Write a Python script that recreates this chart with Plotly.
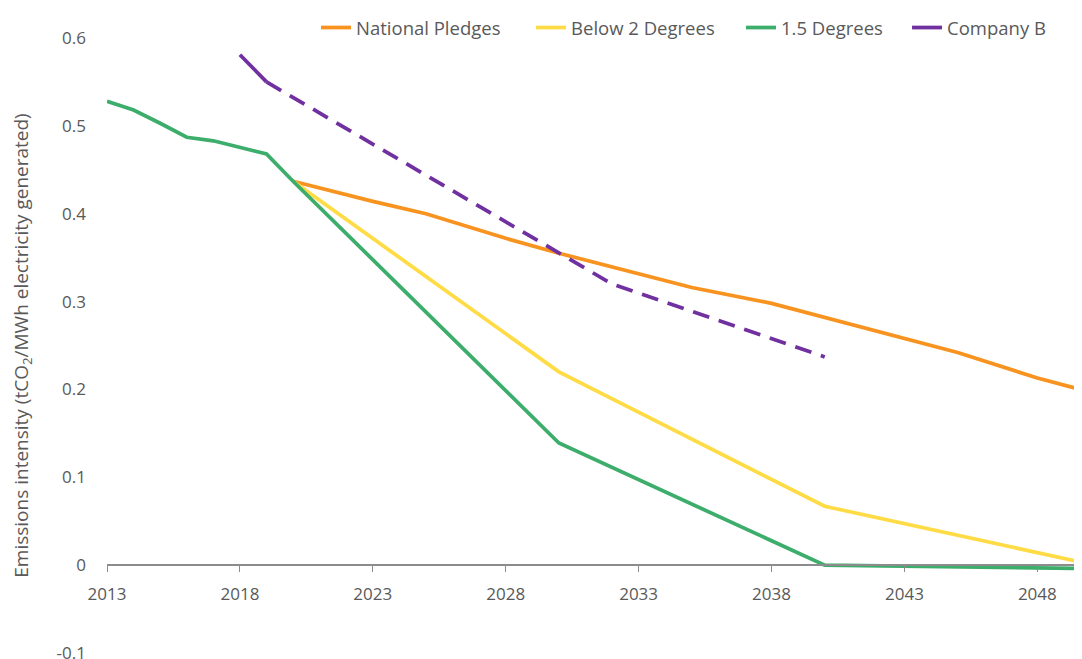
import plotly.graph_objects as go

# ---- data ----
years_15 = [2013, 2014, 2015, 2016, 2017, 2018, 2019, 2020, 2030, 2040, 2050]
vals_15 = [0.528, 0.518, 0.503, 0.487, 0.483, 0.476, 0.468, 0.437, 0.139, 0.0, -0.004]

years_b2 = [2020, 2030, 2040, 2050]
vals_b2 = [0.437, 0.220, 0.067, 0.001]

years_np = [2020, 2023, 2025, 2028, 2030, 2033, 2035, 2038, 2040, 2043, 2045, 2048, 2050]
vals_np = [0.437, 0.414, 0.400, 0.372, 0.355, 0.331, 0.316, 0.298, 0.282, 0.257, 0.242, 0.213, 0.197]

years_cb_hist = [2018, 2019]
vals_cb_hist = [0.581, 0.550]

years_cb_target = [2019, 2030, 2032, 2040]
vals_cb_target = [0.550, 0.355, 0.320, 0.237]

y_ticks = [-0.1, 0, 0.1, 0.2, 0.3, 0.4, 0.5, 0.6]
y_ticktext = ["-0.1", "0", "0.1", "0.2", "0.3", "0.4", "0.5", "0.6"]
x_ticks = [2013, 2018, 2023, 2028, 2033, 2038, 2043, 2048]

ORANGE = "#F7931E"
YELLOW = "#FFDC45"
GREEN = "#3DAD6C"
PURPLE = "#7030A0"
TEXT = "#595959"
FONT = "'Open Sans', Lato, sans-serif"
LW = 3.75

fig = go.Figure()
fig.add_trace(go.Scatter(x=years_np, y=vals_np, mode="lines", name="National Pledges",
                         legend="legend", line=dict(color=ORANGE, width=LW)))
fig.add_trace(go.Scatter(x=years_b2, y=vals_b2, mode="lines", name="Below 2 Degrees",
                         legend="legend2", line=dict(color=YELLOW, width=LW)))
fig.add_trace(go.Scatter(x=years_15, y=vals_15, mode="lines", name="1.5 Degrees",
                         legend="legend3", line=dict(color=GREEN, width=LW)))
fig.add_trace(go.Scatter(x=years_cb_hist, y=vals_cb_hist, mode="lines", name="Company B",
                         legend="legend4", line=dict(color=PURPLE, width=LW)))
fig.add_trace(go.Scatter(x=years_cb_target, y=vals_cb_target, mode="lines", name="Company B target",
                         showlegend=False,
                         line=dict(color=PURPLE, width=LW, dash="17px,10px")))

W, H = 1074, 666  # page body has an 8px margin; the plot sits 8px in


def leg(xpos):
    # legend top 1px below the figure top
    return dict(orientation="h", xref="container", yref="container",
                x=xpos, y=1 - 1 / H, xanchor="left", yanchor="top",
                font=dict(size=18.5, color=TEXT), bgcolor="rgba(0,0,0,0)")


fig.update_layout(
    width=W, height=H,
    margin=dict(l=99, r=0, t=30, b=21, autoexpand=False),
    paper_bgcolor="white", plot_bgcolor="white",
    font=dict(family=FONT, size=17, color=TEXT),
    showlegend=True,
    legend=leg(0.2868),
    legend2=leg(0.4870),
    legend3=leg(0.6825),
    legend4=leg(0.8371),
    xaxis=dict(range=[2013, 2049.68], tickvals=x_ticks, showgrid=False, zeroline=False,
               showline=True, linecolor="#8C8C8C", linewidth=1.5, automargin=False,
               ticks="outside", ticklen=6, tickcolor="#8C8C8C", tickwidth=1.2,
               ticklabelstandoff=8,
               anchor="free", position=1/7, tickfont=dict(size=17, color=TEXT)),
    yaxis=dict(range=[-0.1, 0.6], tickvals=y_ticks, ticktext=y_ticktext, automargin=False,
               showgrid=False, zeroline=False, showline=False, ticks="",
               ticklabeloverflow="allow",
               ticklabelstandoff=20, tickfont=dict(size=17, color=TEXT),
               title=dict(text="Emissions intensity (tCO<sub>2</sub>/MWh electricity generated)",
                          font=dict(size=19, color=TEXT), standoff=28)),
)

fig.write_html("out.html")
